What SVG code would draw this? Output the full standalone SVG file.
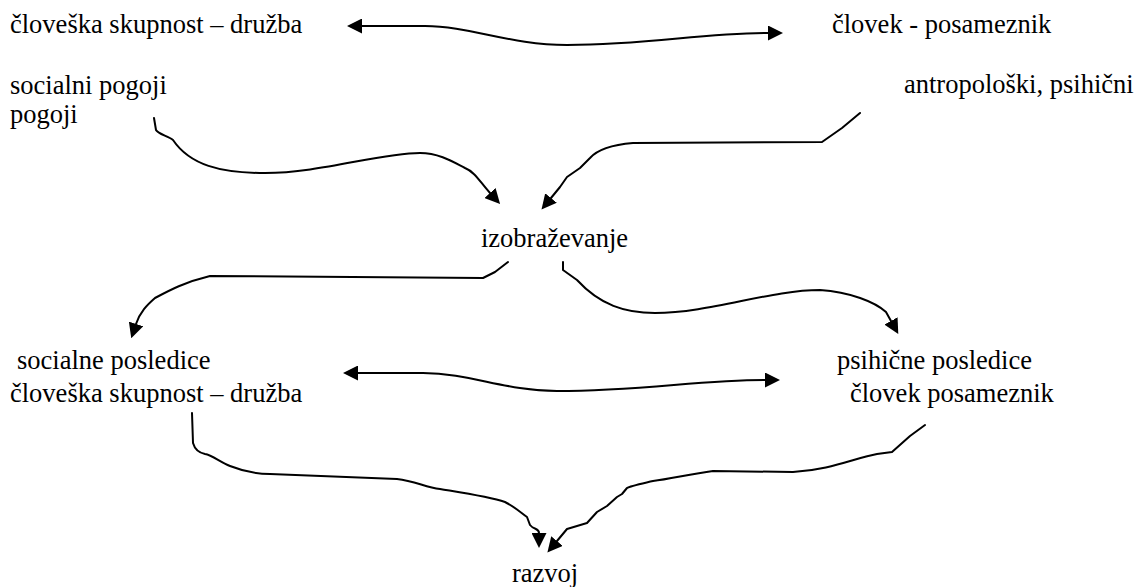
<svg xmlns="http://www.w3.org/2000/svg" width="1138" height="587" viewBox="0 0 1138 587">
  <style>
    .lbl { font-size: 26.5px; fill: #000; }
    .link { fill: none; stroke: #000; stroke-width: 2; stroke-linejoin: round; stroke-linecap: round; }
  </style>
  <defs>
    <marker id="head" viewBox="0 0 15 15" refX="0" refY="7.5" markerWidth="15" markerHeight="15" markerUnits="userSpaceOnUse" orient="auto-start-reverse">
      <path d="M0,0 L15,7.5 L0,15 z" fill="#000"/>
    </marker>
  </defs>
  <rect width="1138" height="587" fill="#fff"/>

  <!-- labels: Times-metric serif first, further serif faces as fallbacks -->
  <g id="druzba-top"><text class="lbl" font-family="Liberation Serif, Times New Roman, Noto Serif, DejaVu Serif, Noto Serif CJK SC, serif" x="10" y="33">človeška skupnost – družba</text></g>
  <g id="clovek-top"><text class="lbl" font-family="Liberation Serif, Times New Roman, Noto Serif, DejaVu Serif, Noto Serif CJK SC, serif" x="832" y="33">človek - posameznik</text></g>
  <g id="socialni-pogoji"><text class="lbl" font-family="Liberation Serif, Times New Roman, Noto Serif, DejaVu Serif, Noto Serif CJK SC, serif" x="10" y="94">socialni pogoji</text><text class="lbl" font-family="Liberation Serif, Times New Roman, Noto Serif, DejaVu Serif, Noto Serif CJK SC, serif" x="10" y="123">pogoji</text></g>
  <g id="antropoloski"><text class="lbl" font-family="Liberation Serif, Times New Roman, Noto Serif, DejaVu Serif, Noto Serif CJK SC, serif" x="904" y="93">antropološki, psihični</text></g>
  <g id="izobrazevanje"><text class="lbl" font-family="Liberation Serif, Times New Roman, Noto Serif, DejaVu Serif, Noto Serif CJK SC, serif" x="481" y="247">izobraževanje</text></g>
  <g id="socialne-posledice"><text class="lbl" font-family="Liberation Serif, Times New Roman, Noto Serif, DejaVu Serif, Noto Serif CJK SC, serif" x="17" y="369">socialne posledice</text><text class="lbl" font-family="Liberation Serif, Times New Roman, Noto Serif, DejaVu Serif, Noto Serif CJK SC, serif" x="10" y="402">človeška skupnost – družba</text></g>
  <g id="psihicne-posledice"><text class="lbl" font-family="Liberation Serif, Times New Roman, Noto Serif, DejaVu Serif, Noto Serif CJK SC, serif" x="837" y="369">psihične posledice</text><text class="lbl" font-family="Liberation Serif, Times New Roman, Noto Serif, DejaVu Serif, Noto Serif CJK SC, serif" x="850" y="402">človek posameznik</text></g>
  <g id="razvoj"><text class="lbl" font-family="Liberation Serif, Times New Roman, Noto Serif, DejaVu Serif, Noto Serif CJK SC, serif" x="512" y="582">razvoj</text></g>

  <g id="connectors">
    <path class="link" marker-start="url(#head)" marker-end="url(#head)" d="M362,26 L425,26 C470,26 510,45 567,45 C650,45 700,33 768,33"/>
    <path class="link" marker-end="url(#head)" d="M154,118 L156,130 C158,134 168,136 173,140 C190,165 220,173 265,173 C320,173 380,153 420,153 C440,153 455,163 465,168 C475,172 480,182 490,193"/>
    <path class="link" marker-end="url(#head)" d="M860,113 L842,128 L822,142 L633,143 C610,145 597,150 590,158 L580,168 L567,177 L560,187 L551,198"/>
    <path class="link" marker-end="url(#head)" d="M508,262 L495,272 L483,278 L210,276 C185,282 170,290 155,298 C147,305 140,312 136,324"/>
    <path class="link" marker-end="url(#head)" d="M563,262 L563,270 L577,280 C600,305 625,313 655,313 C710,313 770,290 820,290 C850,292 875,302 886,312 L891,321"/>
    <path class="link" marker-start="url(#head)" marker-end="url(#head)" d="M358,373 L423,373 C470,373 505,391 557,391 C640,391 700,380 765,380"/>
    <path class="link" marker-end="url(#head)" d="M192,413 L193,443 C195,450 200,453 205,454 C212,455 220,462 230,466 C245,472 255,474 270,474 L397,479 C415,481 425,487 440,489 C470,494 490,497 505,502 C515,507 520,512 527,517 L530,525 C534,530 539,528 539,533"/>
    <path class="link" marker-end="url(#head)" d="M925,425 L910,436 L892,452 L877,454 C855,458 830,470 793,472 L713,471 C690,474 670,479 653,481 C640,484 630,486 627,488 L622,494 L617,497 L607,506 L597,512 L587,523 L567,529 L557,541"/>
  </g>
</svg>
